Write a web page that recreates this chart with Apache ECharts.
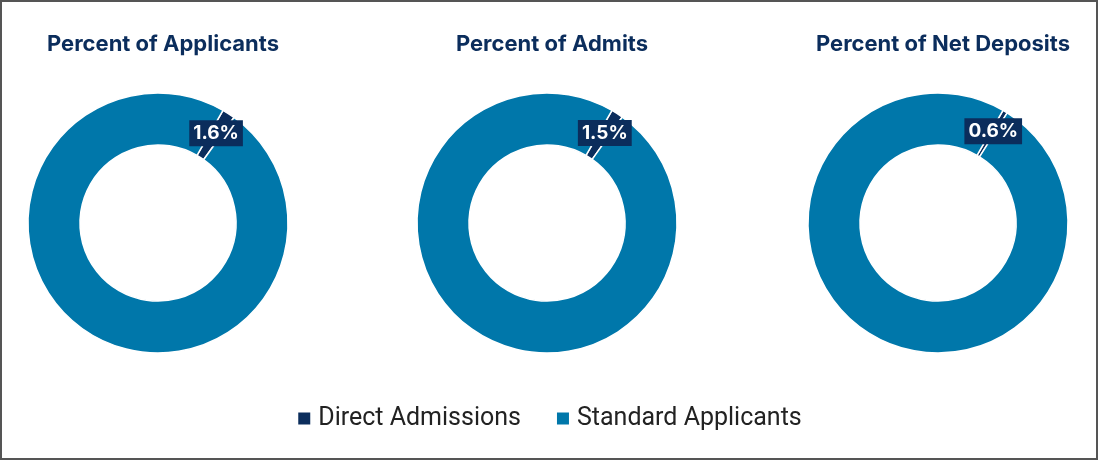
<!DOCTYPE html>
<html>
<head>
<meta charset="utf-8">
<script src="https://cdn.jsdelivr.net/npm/echarts@6/dist/echarts.min.js"></script>
<style>
  html, body { margin: 0; padding: 0; background: #fff; }
  #wrap { position: relative; width: 1098px; height: 460px; }
  #main { width: 1098px; height: 460px; }
  #frame { position: absolute; left: 0; top: 0; right: 0; bottom: 0; border: 2px solid #555; pointer-events: none; }
</style>
</head>
<body>
<div id="wrap">
  <div id="main"></div>
  <div id="frame"></div>
</div>
<script>
var titles = ['Percent of Applicants', 'Percent of Admits', 'Percent of Net Deposits'];
var groups = ['Direct Admissions', 'Standard Applicants'];
var direct = [1.6, 1.5, 0.6];
var standard = [98.4, 98.5, 99.4];

var centersX = [158, 547, 938];
var navy = '#0b2d5c';
var blue = '#0077aa';

var chartDom = document.getElementById('main');
var myChart = echarts.init(chartDom);
var option;

option = {
  color: [navy, blue],
  title: titles.map(function (t, i) {
    return {
      text: t,
      left: centersX[i],
      top: 28,
      textAlign: 'center',
      textStyle: {
        fontFamily: 'Inter',
        fontSize: 22,
        fontWeight: 'bold',
        color: navy
      }
    };
  }),
  legend: {
    bottom: 24,
    left: 'center',
    itemWidth: 14,
    itemHeight: 14,
    itemGap: 34,
    icon: 'rect',
    textStyle: {
      fontFamily: 'Roboto',
      fontSize: 25,
      color: '#222',
      padding: [0, 0, 0, 2]
    },
    data: groups
  },
  series: titles.map(function (t, i) {
    return {
      name: t,
      type: 'pie',
      center: [centersX[i], 223],
      radius: [78, 130],
      startAngle: 60,
      clockwise: true,
      silent: true,
      itemStyle: {
        borderColor: '#fff',
        borderWidth: 1.5
      },
      labelLine: { show: false },
      data: [
        {
          name: groups[0],
          value: direct[i],
          label: {
            show: true,
            position: 'inside',
            formatter: '{c}%',
            backgroundColor: navy,
            color: '#fff',
            fontFamily: 'Inter',
            fontWeight: 'bold',
            fontSize: 19,
            padding: [4, 4, 3, 4]
          }
        },
        {
          name: groups[1],
          value: standard[i],
          label: { show: false }
        }
      ]
    };
  })
};

option && myChart.setOption(option);
</script>
</body>
</html>
